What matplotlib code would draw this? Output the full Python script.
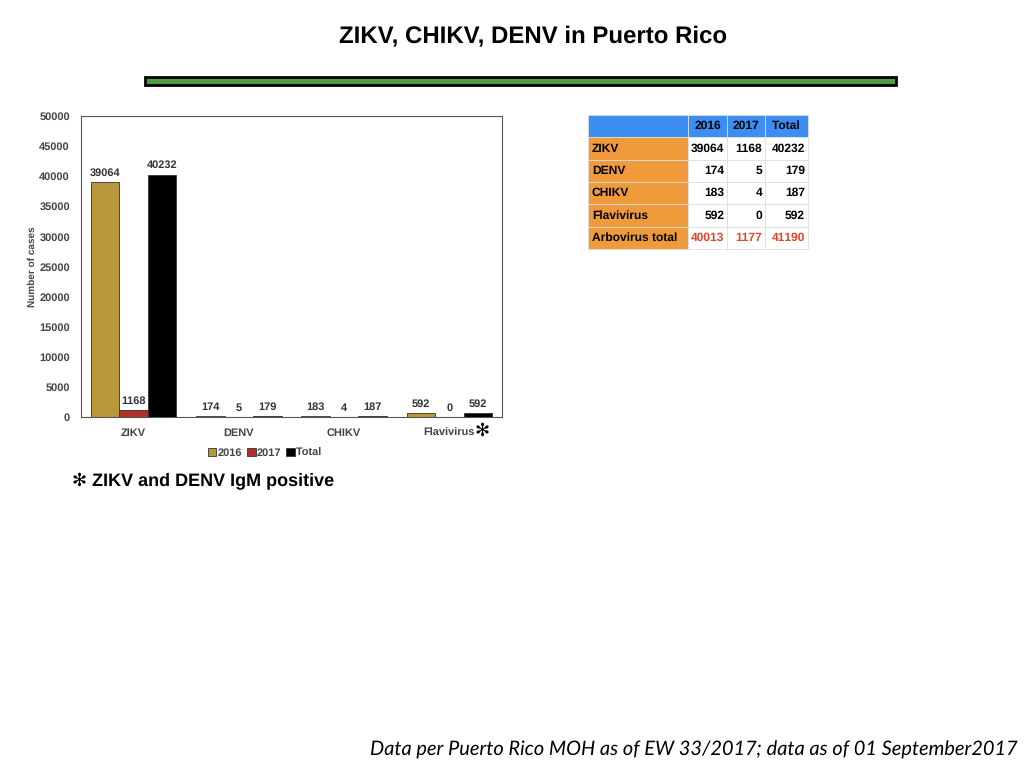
import matplotlib
matplotlib.use("Agg")
import matplotlib.pyplot as plt
import numpy as np
from matplotlib.patches import Rectangle
from matplotlib.transforms import blended_transform_factory

plt.rcParams["text.hinting_factor"] = 1
plt.rcParams["text.hinting"] = "no_hinting"

categories = ["ZIKV", "DENV", "CHIKV", "Flavivirus"]
series_names = ["2016", "2017", "Total"]
v2016 = [39064, 174, 183, 592]
v2017 = [1168, 5, 4, 0]
vtotal = [40232, 179, 187, 592]
yticks = [0, 5000, 10000, 15000, 20000, 25000, 30000, 35000, 40000, 45000, 50000]

table_header = ["", "2016", "2017", "Total"]
table_rows = ["ZIKV", "DENV", "CHIKV", "Flavivirus", "Arbovirus total"]
t2016 = ["39064", "174", "183", "592", "40013"]
t2017 = ["1168", "5", "4", "0", "1177"]
ttotal = ["40232", "179", "187", "592", "41190"]

c2016 = "#B8963A"
c2017 = "#B3302A"
ctotal = "#000000"
gray = "#444444"
FS = 7.6

fig = plt.figure(figsize=(10.24, 7.68), dpi=100)
fig.patch.set_facecolor("white")

fig.text(0.521, 0.952, "ZIKV, CHIKV, DENV in Puerto Rico", ha="center", va="center",
         fontsize=17.3, fontweight="bold", family="Liberation Sans")

fig.patches.append(Rectangle((145/1024, 1-85/768), 751/1024, 8/768, transform=fig.transFigure,
                             facecolor="#4E9A45", edgecolor="black", linewidth=2, figure=fig))

ax = fig.add_axes([81/1024, 1-417/768, 421/1024, 301/768])
x = np.arange(len(categories))
w = 0.27
series = [v2016, v2017, vtotal]
colors = [c2016, c2017, ctotal]
for i, (vals, col, name) in enumerate(zip(series, colors, series_names)):
    bars = ax.bar(x + (i - 1) * w, vals, w, color=col, edgecolor="#333333", linewidth=0.6, label=name)
    ax.bar_label(bars, labels=[str(v) for v in vals], padding=3, fontsize=FS,
                 fontweight="bold", color="#333333", family="Liberation Sans")

ax.set_xlim(-0.5, 3.5)
ax.set_ylim(0, 50000)
ax.set_yticks(yticks)
ax.set_yticklabels([str(t) for t in yticks], fontsize=FS, fontweight="bold", color=gray,
                   family="Liberation Sans")
ax.set_xticks(x)
ax.set_xticklabels(categories, fontsize=FS, fontweight="bold", color=gray, family="Liberation Sans")
ax.tick_params(axis="y", length=0, pad=8)
ax.tick_params(axis="x", length=0, pad=8)
for s in ax.spines.values():
    s.set_color("#555555")
    s.set_linewidth(0.8)
ax.set_ylabel("Number of cases", fontsize=7.4, fontweight="bold", color=gray, family="Liberation Sans")
ax.yaxis.set_label_coords(-0.105, 0.5)
trans = blended_transform_factory(ax.transData, fig.transFigure)
ax.text(3.31, 1-431/768, "✻", transform=trans, ha="center", va="center", fontsize=13,
        fontweight="bold", color="black", family="DejaVu Sans")

handles, labels = ax.get_legend_handles_labels()
leg = fig.legend(handles, labels, loc="center", bbox_to_anchor=(265/1024, 1-453/768), ncol=3,
                 frameon=False, handlelength=0.8, handleheight=0.8,
                 handletextpad=0.1, columnspacing=0.5,
                 prop={"family": "Liberation Sans", "weight": "bold", "size": 7.6})
for t in leg.get_texts():
    t.set_color(gray)

fig.text(72/1024, 1-481/768, "✻ ZIKV and DENV IgM positive", ha="left", va="center",
         fontsize=12.8, fontweight="bold", family=["Liberation Sans", "DejaVu Sans"])

# table
tax = fig.add_axes([588/1024, 1-249/768, 220/1024, 134/768])
tax.axis("off")
cell_text = [table_header] + [[r, a, b, c] for r, a, b, c in zip(table_rows, t2016, t2017, ttotal)]
col_w = [100/220, 39/220, 38/220, 43/220]
tbl = tax.table(cellText=cell_text, colWidths=col_w, bbox=[0, 0, 1, 1], cellLoc="right")
tbl.auto_set_font_size(False)
nrows = len(cell_text)
for (r, c), cell in tbl.get_celld().items():
    cell.set_edgecolor("#DDDDDD")
    cell.set_linewidth(0.6)
    txt = cell.get_text()
    txt.set_fontsize(8.4)
    txt.set_fontweight("bold")
    txt.set_family("Liberation Sans")
    if r == 0:
        cell.set_facecolor("#3D8EF2")
        txt.set_ha("center")
        cell._loc = "center"
    elif c == 0:
        cell.set_facecolor("#EF9B3C")
        cell._loc = "left"
        txt.set_ha("left")
        cell.PAD = 0.04
    else:
        cell.set_facecolor("white")
        cell.PAD = 0.07
    if r == nrows - 1 and c > 0:
        txt.set_color("#E0462B")

fig.text(1018/1024, 1-750/768, "Data per Puerto Rico MOH as of EW 33/2017; data as of 01 September2017",
         ha="right", va="center", fontsize=14.3, style="italic", family="Lato")

fig.savefig("out.png", dpi=100, facecolor="white")
